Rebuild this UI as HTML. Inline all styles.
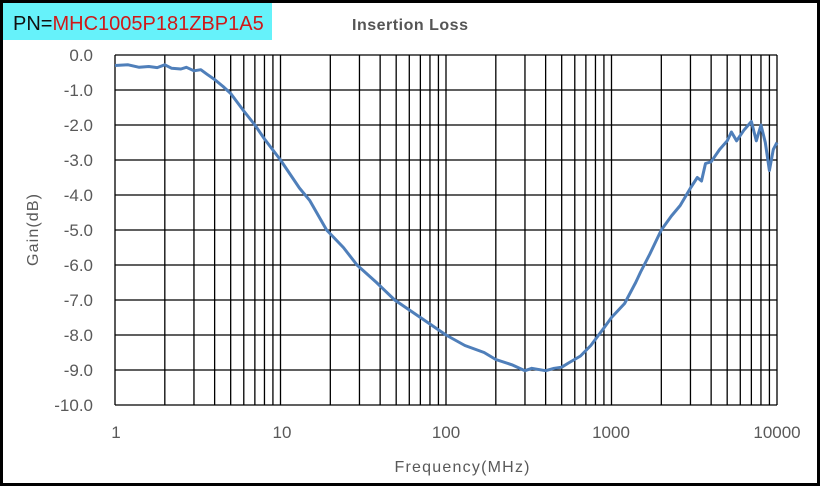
<!DOCTYPE html>
<html><head><meta charset="utf-8"><style>
body{margin:0;background:#fff;}
svg{display:block;font-family:"Liberation Sans",sans-serif;}
</style></head><body>
<svg width="821" height="487" viewBox="0 0 821 487" xmlns="http://www.w3.org/2000/svg">
<rect x="1.5" y="1.5" width="817" height="483" fill="#fff" stroke="#000" stroke-width="3"/>
<rect x="3" y="3" width="269" height="37" fill="#66f2fa"/>
<text x="13" y="30" font-size="20" fill="#111">PN=<tspan fill="#d01818">MHC1005P181ZBP1A5</tspan></text>
<text x="352" y="30" font-size="16" font-weight="bold" fill="#555" textLength="116">Insertion Loss</text>
<g id="grid" stroke="#000" stroke-width="1.3"></g>
<g font-size="17" fill="#595959" text-anchor="end" id="ylab"></g>
<g font-size="17" fill="#595959" text-anchor="middle">
<text x="116" y="438">1</text><text x="282" y="438">10</text><text x="446" y="438">100</text><text x="611" y="438">1000</text><text x="777" y="438">10000</text>
</g>
<text x="462" y="472" font-size="16" fill="#595959" text-anchor="middle" textLength="135">Frequency(MHz)</text>
<text transform="translate(38,230) rotate(-90)" font-size="16" fill="#595959" text-anchor="middle" textLength="72">Gain(dB)</text>
<polyline id="curve" fill="none" stroke="#4f7fba" stroke-width="3" stroke-linejoin="round"/>
</svg>
<script>
var X0=115,D=165.5,Y0=55,S=35,ns="http://www.w3.org/2000/svg";
function fx(f){return X0+Math.log10(f)*D}function fy(d){return Y0-d*S}
var g=document.getElementById('grid'),yl=document.getElementById('ylab');
for(var e=0;e<4;e++)for(var k=1;k<=10;k++){if(k==10&&e<3)continue;var x=fx(k*Math.pow(10,e));var l=document.createElementNS(ns,'line');l.setAttribute('x1',x);l.setAttribute('x2',x);l.setAttribute('y1',55);l.setAttribute('y2',405);g.appendChild(l);}
for(var i=0;i<=10;i++){var y=fy(-i);var l=document.createElementNS(ns,'line');l.setAttribute('x1',115);l.setAttribute('x2',777);l.setAttribute('y1',y);l.setAttribute('y2',y);g.appendChild(l);
var t=document.createElementNS(ns,'text');t.setAttribute('x',93);t.setAttribute('y',y+6);t.textContent=(i==0?'0.0':'-'+i+'.0');yl.appendChild(t);}
var d=[[1,-0.3],[1.2,-0.28],[1.4,-0.35],[1.6,-0.33],[1.8,-0.36],[2,-0.28],[2.2,-0.38],[2.5,-0.4],[2.7,-0.35],[3,-0.45],[3.3,-0.42],[3.6,-0.55],[4,-0.7],[4.5,-0.9],[5,-1.1],[6,-1.6],[7,-2.0],[8,-2.4],[10,-3.0],[13,-3.8],[15,-4.15],[19,-5.0],[24,-5.5],[29,-6.0],[38,-6.5],[49,-7.0],[70,-7.5],[100,-8.0],[130,-8.3],[170,-8.5],[200,-8.7],[250,-8.85],[300,-9.02],[330,-8.95],[400,-9.02],[450,-8.95],[500,-8.92],[550,-8.8],[650,-8.6],[750,-8.3],[900,-7.8],[1000,-7.5],[1200,-7.1],[1400,-6.5],[1500,-6.2],[1700,-5.7],[2000,-5.0],[2300,-4.6],[2600,-4.3],[3000,-3.8],[3300,-3.5],[3500,-3.6],[3700,-3.1],[4000,-3.05],[4500,-2.7],[5000,-2.45],[5300,-2.2],[5700,-2.45],[6300,-2.15],[7000,-1.9],[7500,-2.45],[8000,-2.0],[8500,-2.5],[9000,-3.3],[9500,-2.7],[10000,-2.5]];
document.getElementById('curve').setAttribute('points',d.map(function(p){return fx(p[0]).toFixed(1)+','+fy(p[1]).toFixed(1)}).join(' '));
</script>
</body></html>
